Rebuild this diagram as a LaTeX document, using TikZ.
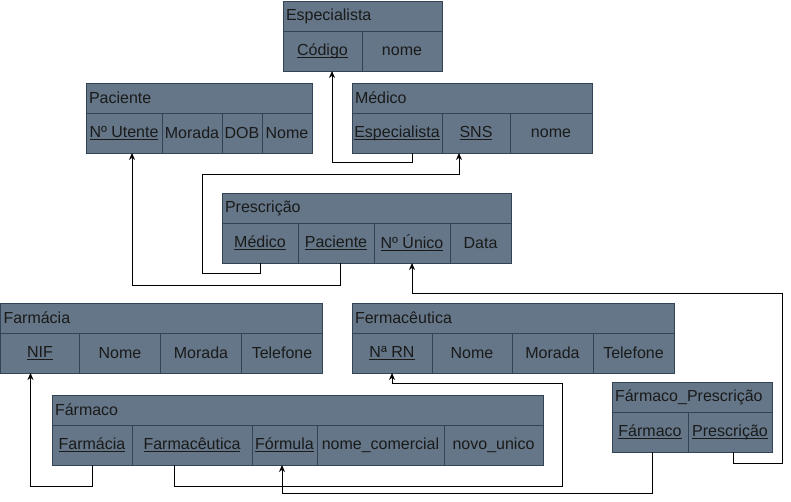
\documentclass[tikz,border=0pt]{standalone}
\usepackage{fontspec}
\setmainfont{Liberation Sans}
\usepackage{tikz}
\usetikzlibrary{arrows.meta}

\definecolor{tabfill}{HTML}{647687}
\definecolor{tabline}{HTML}{314354}
\definecolor{tabtext}{HTML}{1A1A1A}
% sublinhado das chaves
\newcommand{\keyattr}[1]{\leavevmode\setbox0=\hbox{#1}\rlap{\vrule width\wd0 height -2pt depth 2.9pt}\box0}

\begin{document}
\begin{tikzpicture}[x=1pt, y=-1pt,
    tabhead/.style={draw=tabline, fill=tabfill, text=tabtext, anchor=north west, minimum height=30pt,
        inner xsep=3pt, inner ysep=0pt, outer sep=0pt, align=left, font=\fontsize{16}{19}\selectfont},
    tabcell/.style={draw=tabline, fill=tabfill, text=tabtext, anchor=north west, minimum height=40pt,
        inner sep=0pt, outer sep=0pt, font=\fontsize{16}{19}\selectfont},
    fk/.style={draw=black, line width=1pt, -{Stealth[length=7pt,width=6pt]}}]
    \useasboundingbox (0,0) rectangle (791,502);

    % Especialista
    \node[tabhead, text width=153pt] (esp) at (283,1) {Especialista};
    \node[tabcell, minimum width=79pt] (esp-cod) at (esp.south west) {\keyattr{Código}};
    \node[tabcell, minimum width=80pt] (esp-nome) at (esp-cod.north east) {nome};

    % Paciente
    \node[tabhead, text width=220pt] (pac) at (86,83) {Paciente};
    \node[tabcell, minimum width=76pt] (pac-nut) at (pac.south west) {\keyattr{Nº Utente}};
    \node[tabcell, minimum width=60pt] (pac-mor) at (pac-nut.north east) {Morada};
    \node[tabcell, minimum width=40pt] (pac-dob) at (pac-mor.north east) {DOB};
    \node[tabcell, minimum width=50pt] (pac-nome) at (pac-dob.north east) {Nome};

    % Médico
    \node[tabhead, text width=234pt] (med) at (352,83) {Médico};
    \node[tabcell, minimum width=90pt] (med-esp) at (med.south west) {\keyattr{Especialista}};
    \node[tabcell, minimum width=68pt] (med-sns) at (med-esp.north east) {\keyattr{SNS}};
    \node[tabcell, minimum width=82pt] (med-nome) at (med-sns.north east) {nome};

    % Prescrição
    \node[tabhead, text width=283pt] (pre) at (222,193) {Prescrição};
    \node[tabcell, minimum width=76pt] (pre-med) at (pre.south west) {\keyattr{Médico}};
    \node[tabcell, minimum width=76pt] (pre-pac) at (pre-med.north east) {\keyattr{Paciente}};
    \node[tabcell, minimum width=76pt] (pre-nun) at (pre-pac.north east) {\keyattr{Nº Único}};
    \node[tabcell, minimum width=61pt] (pre-data) at (pre-nun.north east) {Data};

    % Farmácia
    \node[tabhead, text width=316pt] (fc) at (0.5,303) {Farmácia};
    \node[tabcell, minimum width=79pt] (fc-nif) at (fc.south west) {\keyattr{NIF}};
    \node[tabcell, minimum width=81pt] (fc-nome) at (fc-nif.north east) {Nome};
    \node[tabcell, minimum width=81pt] (fc-mor) at (fc-nome.north east) {Morada};
    \node[tabcell, minimum width=81pt] (fc-tel) at (fc-mor.north east) {Telefone};

    % Fermacêutica
    \node[tabhead, text width=316pt] (fe) at (352,303) {Fermacêutica};
    \node[tabcell, minimum width=80pt] (fe-nrn) at (fe.south west) {\keyattr{Nª RN}};
    \node[tabcell, minimum width=80pt] (fe-nome) at (fe-nrn.north east) {Nome};
    \node[tabcell, minimum width=81pt] (fe-mor) at (fe-nome.north east) {Morada};
    \node[tabcell, minimum width=81pt] (fe-tel) at (fe-mor.north east) {Telefone};

    % Fármaco
    \node[tabhead, text width=485pt] (fa) at (52,395) {Fármaco};
    \node[tabcell, minimum width=80pt] (fa-fcia) at (fa.south west) {\keyattr{Farmácia}};
    \node[tabcell, minimum width=120pt] (fa-fceu) at (fa-fcia.north east) {\keyattr{Farmacêutica}};
    \node[tabcell, minimum width=65pt] (fa-for) at (fa-fceu.north east) {\keyattr{Fórmula}};
    \node[tabcell, minimum width=127pt] (fa-nc) at (fa-for.north east) {nome\_comercial};
    \node[tabcell, minimum width=99pt] (fa-nu) at (fa-nc.north east) {novo\_unico};

    % Fármaco_Prescrição
    \node[tabhead, text width=154pt] (fp) at (612,382) {Fármaco\_Prescrição};
    \node[tabcell, minimum width=76pt] (fp-far) at (fp.south west) {\keyattr{Fármaco}};
    \node[tabcell, minimum width=84pt] (fp-pre) at (fp-far.north east) {\keyattr{Prescrição}};

    % chaves estrangeiras
    \draw[fk] ([xshift=15pt]med-esp.south) -- ++(0,10) -| ([xshift=9.5pt]esp-cod.south);
    \draw[fk] (pre-med.south) -- ++(0,10) -- ++(-58,0) |- ([xshift=-17pt,yshift=-22pt]med-sns.south) -- ([xshift=-17pt]med-sns.south);
    \draw[fk] ([xshift=4pt]pre-pac.south) -- ++(0,22) -| ([xshift=8pt]pac-nut.south);
    \draw[fk] ([xshift=3pt]fp-pre.south) -- ++(0,11) -- ++(49,0) |- ([yshift=-30pt]pre-nun.south) -- (pre-nun.south);
    \draw[fk] ([xshift=2pt]fp-far.south) -- ++(0,41) -| ([xshift=-2.5pt]fa-for.south);
    \draw[fk] (fa-fcia.south) -- ++(0,21) -| ([xshift=-9.5pt]fc-nif.south);
    \draw[fk] ([xshift=-18pt]fa-fceu.south) -- ++(0,21) -- ++(388,0) |- ([yshift=-10pt]fe-nrn.south) -- (fe-nrn.south);
\end{tikzpicture}
\end{document}
